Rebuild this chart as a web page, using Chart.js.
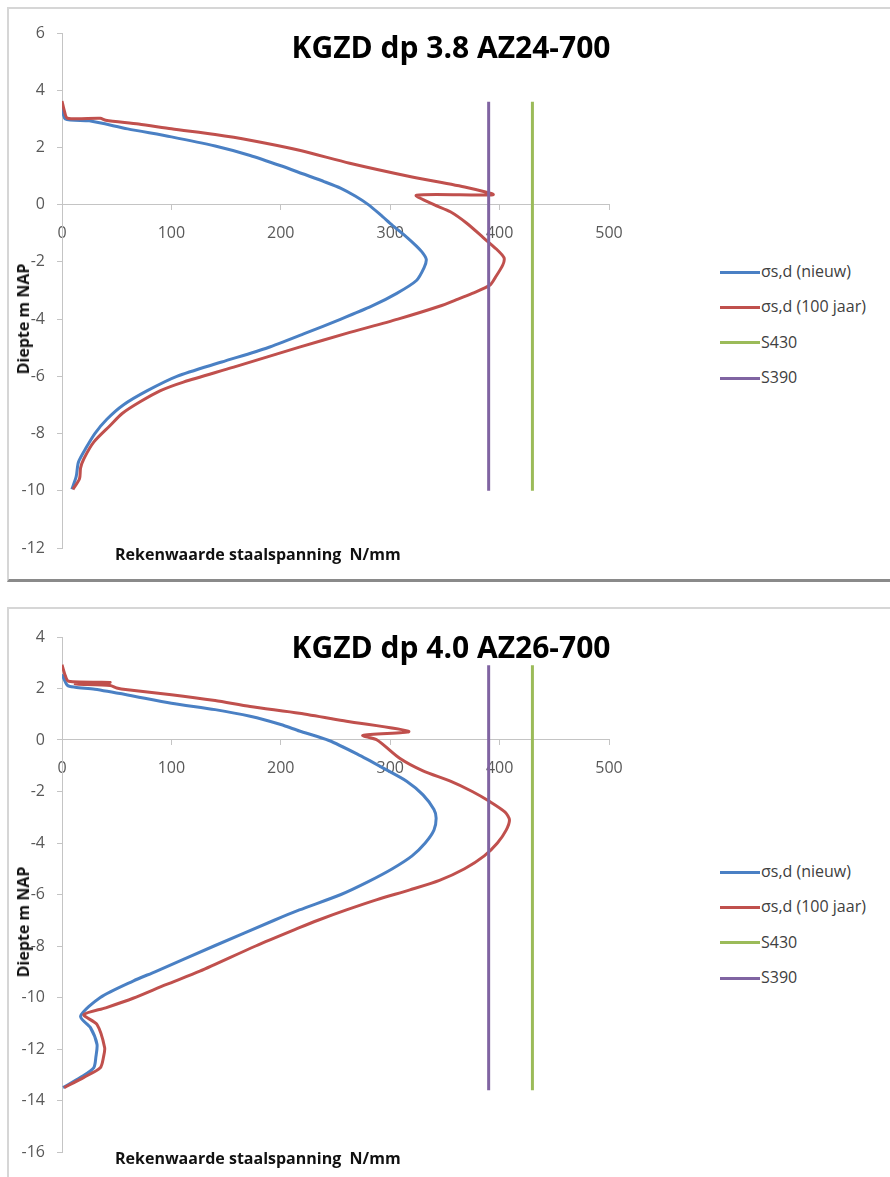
<!DOCTYPE html>
<html>
<head>
<meta charset="utf-8">
<script src="https://cdn.jsdelivr.net/npm/chart.js@4.4.1/dist/chart.umd.min.js"></script>
<style>
html,body{margin:0;padding:0;background:#fff;width:890px;height:1177px;overflow:hidden;font-family:'Open Sans',sans-serif;}
.frame{position:absolute;left:7px;width:900px;box-sizing:border-box;border-left:2px solid #d6d6d6;border-top:2px solid #d6d6d6;}
canvas{position:absolute;left:0;}
.title{position:absolute;left:201px;width:500px;text-align:center;font:bold 30px 'Open Sans',sans-serif;line-height:30px;color:#000;white-space:nowrap;}
.xcap{position:absolute;left:115px;font:bold 16px 'Open Sans',sans-serif;line-height:16px;color:#111;white-space:pre;}
.ycap{position:absolute;left:23px;font:bold 16px 'Open Sans',sans-serif;line-height:16px;color:#111;white-space:nowrap;transform:translate(-50%,-50%) rotate(-90deg);}
.lgline{position:absolute;left:720px;width:40px;height:3px;}
.lgtext{position:absolute;left:761px;font:16px 'Open Sans',sans-serif;line-height:16px;color:#404040;white-space:nowrap;}
</style>
</head>
<body>
<div class="frame" style="top:7px;height:575px;border-bottom:3px solid #8a8a8a;"></div>
<div class="frame" style="top:607px;height:600px;"></div>
<canvas id="c1" width="640" height="580" style="top:0px"></canvas>
<canvas id="c2" width="640" height="587" style="top:590px"></canvas>
<div id="overlay"></div>
<script>
// ---- shared labels / ticks ----
const seriesLabels = ['\u03c3s,d (nieuw)', '\u03c3s,d (100 jaar)', 'S430', 'S390'];
const chartTitles = ['KGZD dp 3.8 AZ24-700', 'KGZD dp 4.0 AZ26-700'];
const xAxisCaption = 'Rekenwaarde staalspanning  N/mm';
const yAxisCaption = 'Diepte m NAP';
const stressTicks = [0, 100, 200, 300, 400, 500];
const topDepthTicks = [-12, -10, -8, -6, -4, -2, 0, 2, 4, 6];
const bottomDepthTicks = [-16, -14, -12, -10, -8, -6, -4, -2, 0, 2, 4];

// ---- top chart (dp 3.8 AZ24-700) ----
const topNieuwStress = [0,3,25,60,100,140,172,200,220,240,255,268,280,291,302,314,324,330,333,331,324,306,283,255,222,188,146,105,78,56,41,30,22,15,13,9];
const topNieuwDepth  = [3.45,3.0,2.93,2.65,2.37,2.05,1.72,1.36,1.08,0.8,0.57,0.3,0.0,-0.35,-0.72,-1.1,-1.45,-1.7,-1.92,-2.2,-2.65,-3.1,-3.55,-4.0,-4.5,-5.0,-5.5,-6.0,-6.5,-7.0,-7.5,-8.0,-8.5,-9.0,-9.5,-9.95];
const top100Stress = [0,2,5,35,40,70,100,140,172,217,263,320,370,394,324,340,355,370,385,397,404,403,396,391,375,362,345,307,260,217,157,111,90,71,55,44,29,20,17,16,10];
const top100Depth  = [3.62,3.3,3.02,3.02,2.95,2.82,2.65,2.45,2.25,1.9,1.45,0.97,0.6,0.35,0.33,0.0,-0.25,-0.65,-1.15,-1.55,-1.85,-2.1,-2.55,-2.82,-3.1,-3.3,-3.55,-4.0,-4.5,-4.98,-5.68,-6.2,-6.5,-6.9,-7.3,-7.72,-8.3,-8.88,-9.2,-9.58,-9.95];
const topS430Stress = [430, 430];
const topS430Depth  = [-10, 3.6];
const topS390Stress = [390, 390];
const topS390Depth  = [-10, 3.6];

// ---- bottom chart (dp 4.0 AZ26-700) ----
const botNieuwStress = [0,5,12,30,60,100,140,172,200,217,244,270,294,315,330,340,342,340,332,320,302,280,255,217,194,139,85,65,35,17,26,32,31,29,17,1];
const botNieuwDepth  = [2.55,2.12,2.05,1.97,1.75,1.43,1.18,0.92,0.6,0.35,-0.02,-0.55,-1.1,-1.6,-2.13,-2.7,-3.04,-3.5,-4.0,-4.5,-5.0,-5.5,-6.0,-6.6,-7.0,-8.0,-9.0,-9.36,-10.0,-10.73,-11.17,-11.82,-12.3,-12.73,-13.1,-13.5];
const bot100Stress = [0,3,6,44,12,44,50,60,100,140,172,217,260,317,275,288,309,330,355,375,391,405,409,406,398,386,368,345,318,288,260,234,217,177,126,95,65,40,20,32,39,38,35,20,2];
const bot100Depth  = [2.92,2.5,2.28,2.24,2.17,2.12,2.02,1.95,1.76,1.53,1.3,1.04,0.73,0.33,0.18,0.0,-0.72,-1.2,-1.6,-2.0,-2.39,-2.8,-3.1,-3.5,-4.0,-4.5,-5.0,-5.45,-5.82,-6.2,-6.6,-7.0,-7.29,-8.0,-8.98,-9.5,-10.03,-10.4,-10.67,-11.05,-11.95,-12.3,-12.73,-13.1,-13.5];
const botS430Stress = [430, 430];
const botS430Depth  = [-13.6, 2.9];
const botS390Stress = [390, 390];
const botS390Depth  = [-13.6, 2.9];

const seriesColors = ['#4a80c4', '#c0504d', '#9bbb59', '#8064a2'];

function pts(xs, ys) { return xs.map((x, i) => ({x: x, y: ys[i]})); }

function makeChart(id, series, depthTicks, pad) {
  const datasets = series.map((s, i) => ({
    label: seriesLabels[i],
    data: pts(s[0], s[1]),
    showLine: true,
    borderColor: seriesColors[i],
    backgroundColor: seriesColors[i],
    borderWidth: 3,
    pointRadius: 0,
    tension: i < 2 ? 0.25 : 0,
    borderJoinStyle: 'round',
    fill: false,
    order: 4 - i
  }));
  const axisGrey = '#c4c4c4';
  return new Chart(document.getElementById(id), {
    type: 'scatter',
    data: { datasets: datasets },
    options: {
      responsive: false,
      animation: false,
      events: [],
      layout: { padding: pad },
      plugins: { legend: { display: false }, title: { display: false }, tooltip: { enabled: false } },
      scales: {
        x: {
          type: 'linear',
          position: { y: 0 },
          min: stressTicks[0],
          max: stressTicks[stressTicks.length - 1],
          ticks: { stepSize: stressTicks[1] - stressTicks[0], padding: 14, color: '#595959', font: { family: 'Open Sans', size: 16 }, maxRotation: 0 },
          grid: { drawOnChartArea: false, drawTicks: true, tickLength: 5, color: axisGrey },
          border: { display: true, color: axisGrey, width: 1 }
        },
        y: {
          type: 'linear',
          position: 'left',
          min: depthTicks[0],
          max: depthTicks[depthTicks.length - 1],
          ticks: { stepSize: depthTicks[1] - depthTicks[0], padding: 12, color: '#595959', font: { family: 'Open Sans', size: 16 } },
          grid: { drawOnChartArea: false, drawTicks: true, tickLength: 5, color: axisGrey },
          border: { display: true, color: axisGrey, width: 1 },
          afterFit: function (scale) { scale.width = 62; }
        }
      }
    }
  });
}

function addOverlay(dy, titleText, yCapCenter, xCapTop) {
  const ov = document.getElementById('overlay');
  const t = document.createElement('div');
  t.className = 'title'; t.style.top = (31.7 + dy) + 'px'; t.textContent = titleText; ov.appendChild(t);
  const xc = document.createElement('div');
  xc.className = 'xcap'; xc.style.top = xCapTop + 'px'; xc.textContent = xAxisCaption; ov.appendChild(xc);
  const yc = document.createElement('div');
  yc.className = 'ycap'; yc.style.top = yCapCenter + 'px'; yc.textContent = yAxisCaption; ov.appendChild(yc);
  const rows = [272, 307, 342.5, 378];
  seriesLabels.forEach((lab, i) => {
    const l = document.createElement('div');
    l.className = 'lgline'; l.style.top = (rows[i] + dy - 1.5) + 'px'; l.style.background = seriesColors[i]; ov.appendChild(l);
    const tx = document.createElement('div');
    tx.className = 'lgtext'; tx.style.top = (rows[i] + dy - 9) + 'px'; tx.textContent = lab; ov.appendChild(tx);
  });
}

function start() {
  makeChart('c1', [[topNieuwStress, topNieuwDepth], [top100Stress, top100Depth], [topS430Stress, topS430Depth], [topS390Stress, topS390Depth]],
    topDepthTicks, { left: 0, top: 33, right: 31, bottom: 32 });
  makeChart('c2', [[botNieuwStress, botNieuwDepth], [bot100Stress, bot100Depth], [botS430Stress, botS430Depth], [botS390Stress, botS390Depth]],
    bottomDepthTicks, { left: 0, top: 47, right: 31, bottom: 25 });
  addOverlay(0, chartTitles[0], 319, 545.8);
  addOverlay(600, chartTitles[1], 922, 1149.8);
}
if (document.fonts && document.fonts.load) {
  Promise.all([document.fonts.load("16px 'Open Sans'"), document.fonts.load("bold 16px 'Open Sans'")]).then(start, start);
} else { start(); }
</script>
</body>
</html>
